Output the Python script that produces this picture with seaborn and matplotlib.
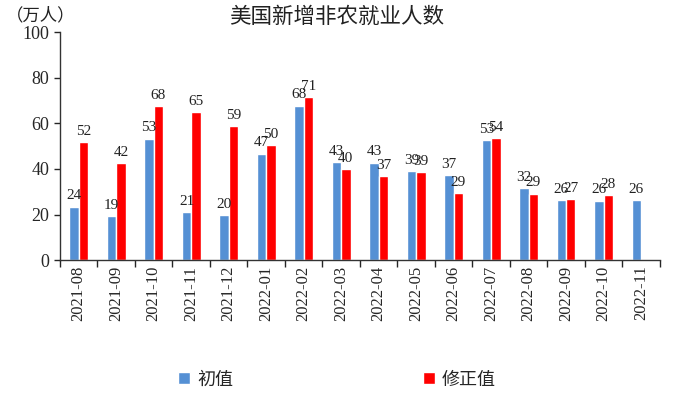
import numpy as np
import pandas as pd
import seaborn as sns
import matplotlib.pyplot as plt

months = ["2021-08", "2021-09", "2021-10", "2021-11", "2021-12", "2022-01", "2022-02",
          "2022-03", "2022-04", "2022-05", "2022-06", "2022-07", "2022-08", "2022-09",
          "2022-10", "2022-11"]
initial = [23.5, 19.4, 53.3, 21.0, 19.9, 46.7, 67.8, 43.1, 42.8, 39.0, 37.2, 52.8,
           31.5, 26.3, 26.1, 26.3]
revised = [51.7, 42.4, 67.7, 64.8, 58.8, 50.4, 71.4, 39.8, 36.8, 38.6, 29.3, 53.7,
           29.2, 26.9, 28.4, np.nan]
series = ["初值", "修正值"]
colors = ["#5590d4", "#ff0000"]

df = pd.DataFrame({
    "month": months * 2,
    "value": initial + revised,
    "series": [series[0]] * len(months) + [series[1]] * len(months),
})

sns.set_style("white")
plt.rcParams['font.family'] = ['Liberation Serif', 'Noto Sans CJK SC']

fig = plt.figure(figsize=(6.74, 3.96), dpi=100)
ax = fig.add_axes([0.089, 0.343, 0.89, 0.576])

sns.barplot(data=df, x="month", y="value", hue="series", palette=colors,
            width=0.5, ax=ax, saturation=1, legend=True)

# data labels
for cont in ax.containers:
    labels = ["" if np.isnan(v) else "%d" % round(v) for v in cont.datavalues]
    ax.bar_label(cont, labels=labels, padding=3, fontsize=11, color="#222222")

ax.set_ylim(0, 100)
ax.set_yticks(range(0, 101, 20))
ax.set_xlim(-0.5, len(months) - 0.5)
ax.set_xlabel("")
ax.set_ylabel("")
ax.tick_params(axis="y", labelsize=13, length=4, width=1, direction="out", left=True)
ax.tick_params(axis="x", which="major", labelsize=12, length=0, rotation=90, pad=4)
ax.set_xticks(np.arange(-0.5, len(months)), minor=True)
ax.tick_params(axis="x", which="minor", length=5, width=1, bottom=True, direction="out")

for s in ["top", "right"]:
    ax.spines[s].set_visible(False)
for s in ["left", "bottom"]:
    ax.spines[s].set_color("#333333")
    ax.spines[s].set_linewidth(1)

handles, labels = ax.get_legend_handles_labels()
ax.get_legend().remove()
fig.legend(handles, labels, loc="center", bbox_to_anchor=(0.5, 0.04), ncol=2,
           frameon=False, fontsize=13, handlelength=0.65, handleheight=0.65,
           columnspacing=10.5, handletextpad=0.4)

fig.text(0.5, 0.955, "美国新增非农就业人数", ha="center", va="center", fontsize=15.5,
         color="#222222")
fig.text(0.008, 0.96, "（万人）", ha="left", va="center", fontsize=12.5, color="#222222")

fig.savefig("out.png", dpi=100)
